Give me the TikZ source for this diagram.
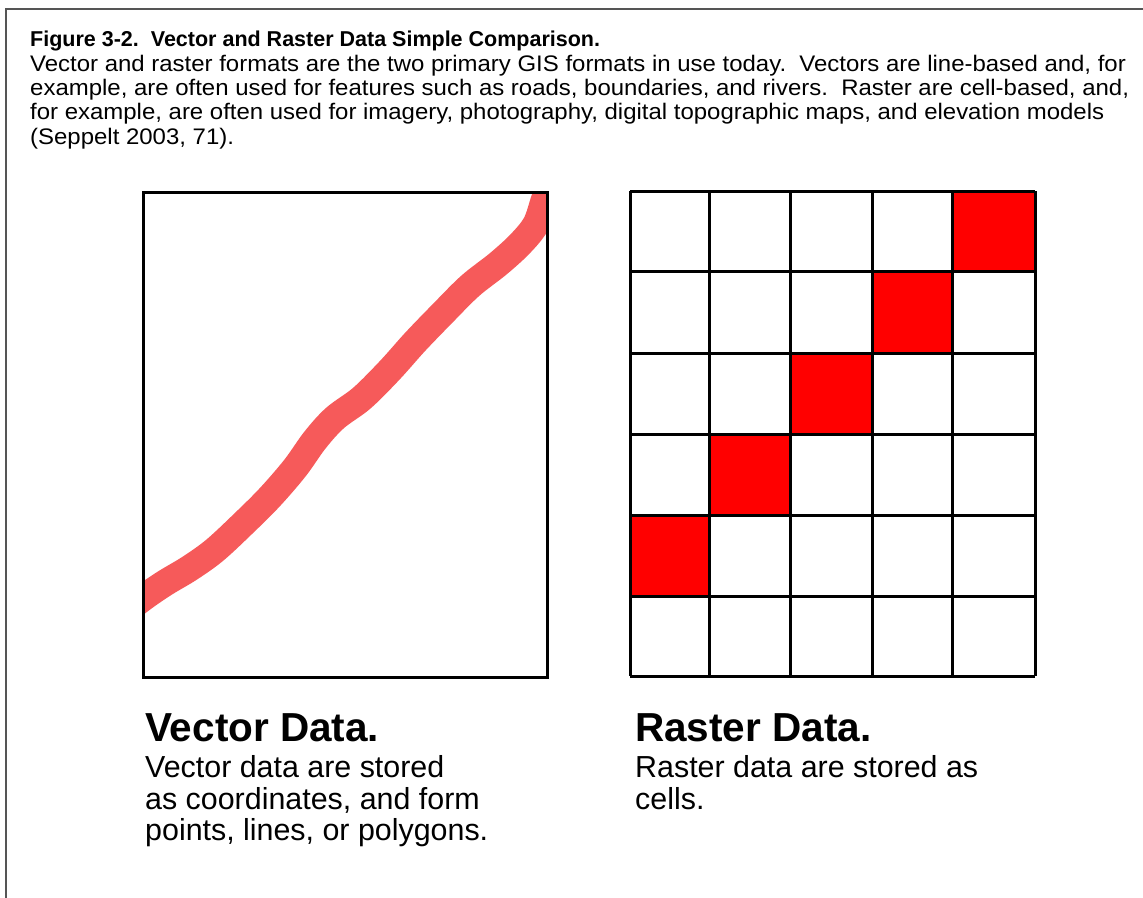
\documentclass[tikz,border=0pt]{standalone}
\usepackage{fontspec}
\setmainfont{Liberation Sans}
\newfontfamily\captionface[FakeStretch=1.065]{Liberation Sans}
\definecolor{roadred}{RGB}{246,90,90}
\definecolor{framegray}{RGB}{85,85,85}
\begin{document}
\begin{tikzpicture}[x=1pt,y=-1pt,
  frameline/.style={draw=framegray,line width=1.5pt},
  boxline/.style={draw=black,line width=3pt},
  gridline/.style={draw=black,line width=3pt,line cap=square},
  cellfill/.style={fill=red},
  road/.style={draw=roadred,line width=27pt,line cap=round,line join=round},
  txt/.style={anchor=base west,inner sep=0pt,font=\captionface\fontsize{22.5}{24}\selectfont},
  titletxt/.style={anchor=base west,inner sep=0pt,font=\fontsize{21.5}{24}\selectfont\bfseries},
  headtxt/.style={anchor=base west,inner sep=0pt,font=\fontsize{40.5}{44}\selectfont\bfseries},
  bodytxt/.style={anchor=base west,inner sep=0pt,font=\fontsize{30.4}{32}\selectfont}]
\useasboundingbox (0,0) rectangle (1143,897);
\fill[white] (0,0) rectangle (1143,897);
% outer frame
\draw[frameline] (6,905) -- (6,9) -- (1150,9);

% caption block
\node[titletxt] (title) at (30,46) {Figure 3-2.\ \ Vector and Raster Data Simple Comparison.};
\node[txt] (l1) at (30,71) {Vector and raster formats are the two primary GIS formats in use today.\ \ Vectors are line-based and, for};
\node[txt] (l2) at (30,95.3) {example, are often used for features such as roads, boundaries, and rivers.\ \ Raster are cell-based, and,};
\node[txt] (l3) at (30,119.6) {for example, are often used for imagery, photography, digital topographic maps, and elevation models};
\node[txt] (l4) at (30,144) {(Seppelt 2003, 71).};

% vector panel: a line feature crossing the frame
\begin{scope}
  \clip (143,192.5) rectangle (547,677);
  \draw[road] plot[smooth,tension=0.55] coordinates {
    (120,616) (143,598) (165,583) (190,568) (215,550) (245,522) (270,497)
    (295,468) (315,440) (335,418) (362,398) (390,370) (415,342) (442,314)
    (470,286) (498,264) (520,244) (536,224) (545,198) (554,178)};
\end{scope}
\draw[boxline] (143,192.5) rectangle (547,677);

% raster panel: highlighted cells, then the grid
\fill[cellfill] (952.5,191) rectangle (1035,271);
\fill[cellfill] (872,271) rectangle (952.5,353);
\fill[cellfill] (790.5,353) rectangle (872,434.5);
\fill[cellfill] (709.5,434.5) rectangle (790.5,515);
\fill[cellfill] (630,515) rectangle (709.5,596);
\foreach \gx in {630,709.5,790.5,872,952.5,1035}
  \draw[gridline] (\gx,191) -- (\gx,676);
\foreach \gy in {191,271,353,434.5,515,596,676}
  \draw[gridline] (630,\gy) -- (1035,\gy);

% panel captions
\node[headtxt] (vhead) at (145,741) {Vector Data.};
\node[bodytxt] (vb1) at (145,777.5) {Vector data are stored};
\node[bodytxt] (vb2) at (145,809) {as coordinates, and form};
\node[bodytxt] (vb3) at (145,840.5) {points, lines, or polygons.};

\node[headtxt] (rhead) at (635,741) {Raster Data.};
\node[bodytxt] (rb1) at (635,777.5) {Raster data are stored as};
\node[bodytxt] (rb2) at (635,809) {cells.};
\end{tikzpicture}
\end{document}
